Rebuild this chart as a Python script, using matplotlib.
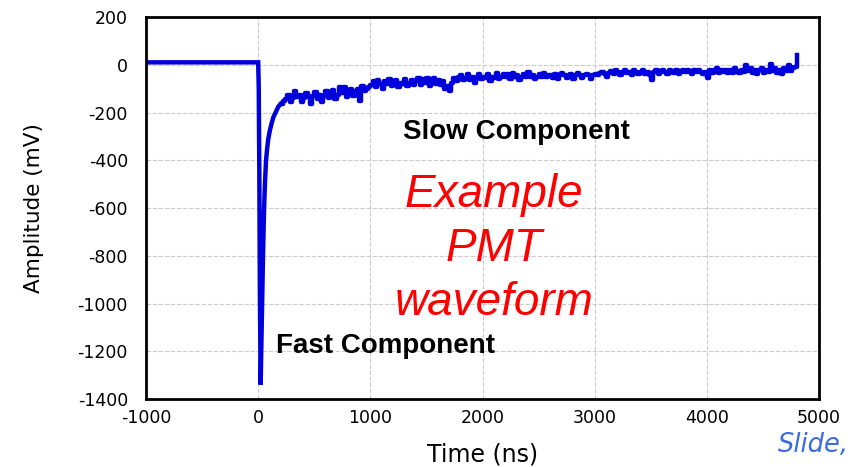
import numpy as np
import matplotlib
matplotlib.use("Agg")
import matplotlib.pyplot as plt

plt.rcParams["axes.unicode_minus"] = False

# baseline before the trigger
t_base = [-1000, 0]
v_base = [10, 10]

# fast component (ns, mV)
t_fast = [0, 5, 10, 15, 22, 28, 35, 43, 52, 60, 70, 80, 90, 105, 120, 135, 150, 165, 180, 200]
v_fast = [10, -100, -450, -950, -1340, -1180, -1000, -800, -610, -500, -400, -350, -310,
          -273, -245, -220, -205, -190, -175, -165]

# slow component, one sample every 20 ns from 200 ns
slow_start = 200
slow_step = 20
v_slow = [
    -165, -150, -145, -125, -155, -140, -110, -135, -125, -155, -140, -120, -135, -165, -130, -115, -145, -125, -155, -130,
    -110, -140, -120, -105, -145, -125, -95, -120, -95, -135, -115, -100, -130, -110, -100, -150, -90, -110, -100, -95,
    -85, -70, -95, -65, -80, -100, -70, -80, -60, -90, -80, -65, -95, -75, -80, -60, -90, -75, -65, -85,
    -70, -55, -85, -60, -75, -55, -90, -70, -55, -80, -65, -85, -70, -100, -90, -110, -75, -55, -70, -50,
    -45, -65, -55, -40, -65, -50, -75, -55, -40, -60, -50, -55, -40, -70, -50, -55, -35, -60, -50, -40,
    -50, -40, -60, -35, -50, -45, -65, -50, -40, -50, -30, -50, -45, -60, -50, -40, -50, -35, -50, -45,
    -45, -55, -40, -60, -45, -35, -45, -55, -45, -40, -60, -45, -35, -45, -55, -45, -40, -45, -60, -45,
    -40, -45, -35, -30, -40, -50, -35, -25, -40, -20, -30, -45, -30, -20, -35, -30, -45, -20, -30, -40,
    -30, -20, -40, -30, -45, -65, -30, -20, -40, -30, -20, -30, -40, -20, -30, -35, -20, -40, -30, -20,
    -30, -20, -30, -40, -20, -30, -20, -30, -40, -30, -55, -20, -35, -20, -15, -35, -20, -30, -20, -35,
    -20, -35, -15, -25, -35, -20, -30, 0, -25, -15, -35, -20, -40, -20, -15, -35, -20, -30, 5, -25,
    -15, -35, -20, -40, -15, -25, 0, -25, -15, -10, 40,
]
t_slow = slow_start + slow_step * np.arange(len(v_slow))

x_ticks = [-1000, 0, 1000, 2000, 3000, 4000, 5000]
y_ticks = [200, 0, -200, -400, -600, -800, -1000, -1200, -1400]

fig = plt.figure(figsize=(8.52, 4.67), dpi=100)
ax = fig.add_axes([0.1714, 0.1456, 0.7899, 0.818])

line_col = "#0000dd"
ax.plot(t_base + t_fast, v_base + v_fast, color=line_col, lw=3.2, solid_joinstyle="miter")
ax.plot(t_slow, v_slow, color=line_col, lw=3.2, drawstyle="steps-post")

ax.set_xlim(-1000, 5000)
ax.set_ylim(-1400, 200)
ax.set_xticks(x_ticks)
ax.set_yticks(y_ticks)
ax.grid(True, color="#cccccc", lw=0.8, ls=(0, (4, 1.5)))
ax.set_axisbelow(True)
for s in ax.spines.values():
    s.set_linewidth(2)
    s.set_color("black")
ax.tick_params(length=0, labelsize=12.5)
ax.tick_params(axis="y", pad=13)
ax.tick_params(axis="x", pad=7)

ax.set_xlabel("Time (ns)", fontsize=17)
ax.xaxis.set_label_coords(0.5, -0.115)
ax.set_ylabel("Amplitude (mV)", fontsize=15.5)
ax.yaxis.set_label_coords(-0.152, 0.5)

bold = dict(family="Liberation Sans", weight="bold", fontsize=20, color="black")
ax.text(0.3819, 0.680, "Slow Component", transform=ax.transAxes, va="baseline", **bold)
ax.text(0.1927, 0.1204, "Fast Component", transform=ax.transAxes, va="baseline", **bold)

# va="baseline" here lines up the last line ("waveform")
ax.text(0.517, 0.22, "Example\nPMT\nwaveform", transform=ax.transAxes,
        ha="center", va="baseline", multialignment="center", linespacing=1.3,
        family="Liberation Sans", style="italic", fontsize=33, color="red")

fig.text(0.913, 0.032, "Slide,", family="DejaVu Sans", style="italic",
         fontsize=18.5, color="#3a6be0", va="baseline")

fig.savefig("out.png", dpi=100)
